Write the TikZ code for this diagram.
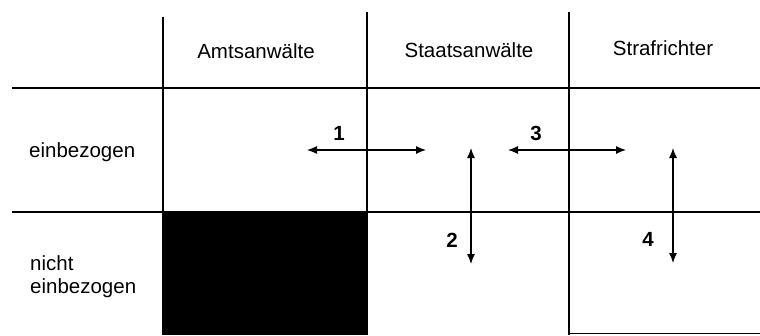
\documentclass[tikz,border=0pt]{standalone}
\usepackage{fontspec}
\setmainfont{Liberation Sans}
\usetikzlibrary{arrows.meta}
\begin{document}
\begin{tikzpicture}[x=1pt,y=-1pt,
  gridline/.style={line width=1.4pt,black},
  thinline/.style={line width=0.8pt,black},
  link/.style={line width=1.2pt,{Latex[length=10pt,width=8pt]}-{Latex[length=10pt,width=8pt]}},
  hdr/.style={anchor=base,inner sep=0pt,font=\fontsize{20.5}{23}\selectfont},
  rowlab/.style={anchor=base west,inner sep=0pt,align=left,font=\fontsize{20.5}{23}\selectfont},
  num/.style={anchor=base,inner sep=0pt,font=\fontsize{20.5}{23}\selectfont\bfseries}]
\useasboundingbox (0,0) rectangle (760,335);
% black cell
\fill[black] (163,212) rectangle (367,335);
% grid
\draw[gridline] (12,88) -- (760,88);
\draw[gridline] (12,212) -- (760,212);
\draw[gridline] (163,17) -- (163,335);
\draw[gridline] (367,12) -- (367,335);
\draw[gridline] (569,12) -- (569,335);
\draw[thinline] (569,333) -- (760,333);
% headers
\node[hdr] (h1) at (256,58) {Amtsanwälte};
\node[hdr] (h2) at (469,57) {Staatsanwälte};
\node[hdr] (h3) at (663,55) {Strafrichter};
% row labels
\node[rowlab] (r1) at (29,157) {einbezogen};
\node[rowlab] (r2) at (30,293) {nicht\\einbezogen};
% arrow ends
\coordinate (a1l) at (307,150);
\coordinate (a1r) at (426,150);
\coordinate (a3l) at (508,150);
\coordinate (a3r) at (626,150);
\coordinate (a2t) at (471,148);
\coordinate (a2b) at (471,264);
\coordinate (a4t) at (673,148);
\coordinate (a4b) at (673,263);
\draw[link] (a1l) -- (a1r);
\draw[link] (a3l) -- (a3r);
\draw[link] (a2t) -- (a2b);
\draw[link] (a4t) -- (a4b);
% numbers
\node[num] (n1) at (339,140) {1};
\node[num] (n3) at (536,140) {3};
\node[num] (n2) at (452,247) {2};
\node[num] (n4) at (648,246) {4};
\end{tikzpicture}
\end{document}
